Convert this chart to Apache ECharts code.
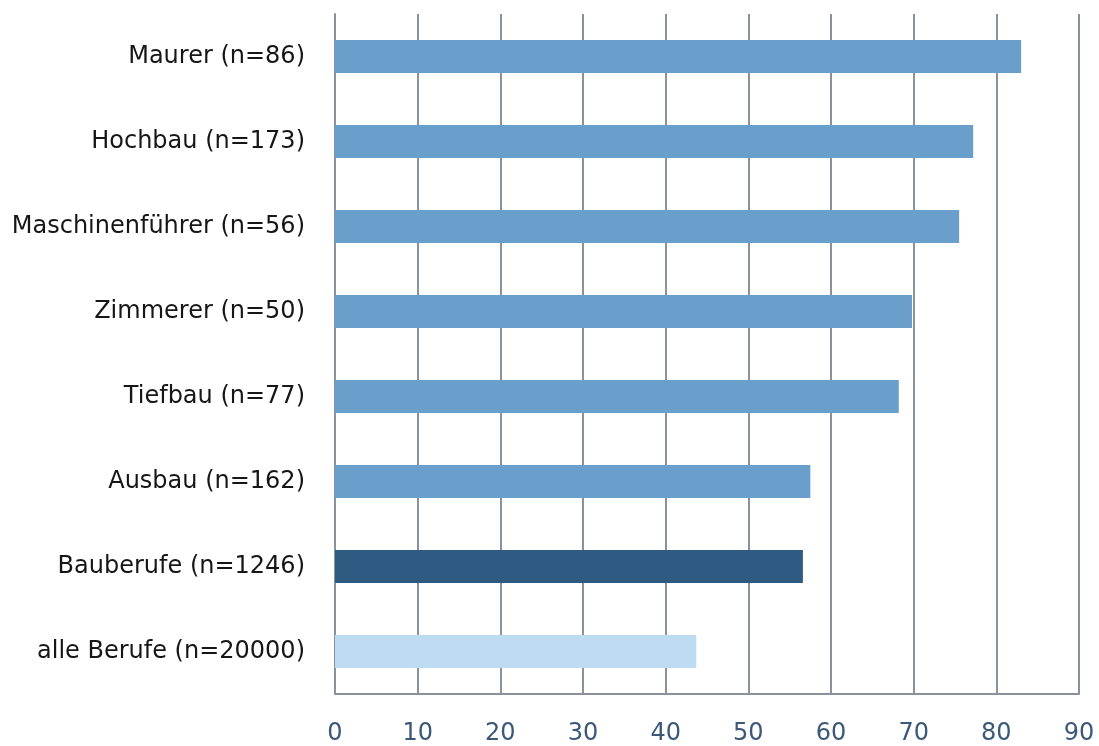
<!DOCTYPE html>
<html>
<head>
<meta charset="utf-8">
<script src="https://cdn.jsdelivr.net/npm/echarts@6/dist/echarts.min.js"></script>
<style>
html,body{margin:0;padding:0;background:#fff;}
#chart{width:1099px;height:746px;}
</style>
</head>
<body>
<div id="chart"></div>
<script>
const categories = [
  'Maurer (n=86)',
  'Hochbau (n=173)',
  'Maschinenführer (n=56)',
  'Zimmerer (n=50)',
  'Tiefbau (n=77)',
  'Ausbau (n=162)',
  'Bauberufe (n=1246)',
  'alle Berufe (n=20000)'
];
const values = [83.0, 77.2, 75.5, 69.8, 68.2, 57.5, 56.6, 43.7];
const xTicks = [0, 10, 20, 30, 40, 50, 60, 70, 80, 90];

const barColor = function (i) {
  if (i === 6) return '#2f5a82';
  if (i === 7) return '#bddcf2';
  return '#6a9fcb';
};

const chart = echarts.init(document.getElementById('chart'));
chart.setOption({
  animation: false,
  backgroundColor: '#ffffff',
  grid: { left: 335, right: 20, top: 14, bottom: 51, containLabel: false },
  xAxis: {
    type: 'value',
    min: xTicks[0],
    max: xTicks[xTicks.length - 1],
    interval: 10,
    axisLine: { show: true, lineStyle: { color: '#8a929c', width: 2 } },
    axisTick: { show: false },
    axisLabel: {
      color: '#3b5878',
      fontFamily: 'DejaVu Sans',
      fontSize: 24,
      margin: 28
    },
    splitLine: { show: true, lineStyle: { color: '#8a929c', width: 2 } }
  },
  yAxis: {
    type: 'category',
    data: categories,
    inverse: true,
    axisLine: { show: true, lineStyle: { color: '#8a929c', width: 2 } },
    axisTick: { show: false },
    axisLabel: {
      color: '#161616',
      fontFamily: 'DejaVu Sans',
      fontSize: 24,
      margin: 30
    }
  },
  series: [{
    type: 'bar',
    data: values.map(function (v, i) {
      return { value: v, itemStyle: { color: barColor(i) } };
    }),
    barWidth: 33
  }]
});
</script>
</body>
</html>
